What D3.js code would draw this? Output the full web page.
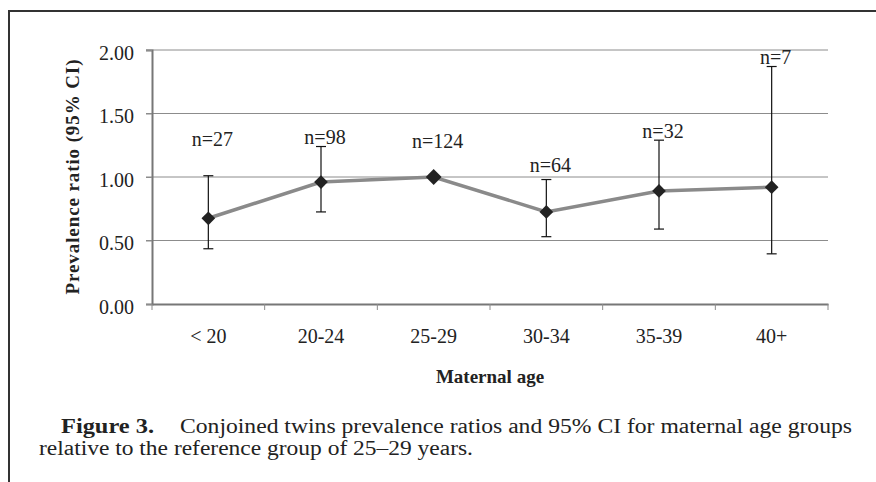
<!DOCTYPE html>
<html>
<head>
<meta charset="utf-8">
<script src="https://cdn.jsdelivr.net/npm/d3@7"></script>
<style>
  body { margin: 0; background: #fff; }
  svg text { font-family: "Liberation Serif", "Times New Roman", serif; fill: #222; }
</style>
</head>
<body>
<div id="chart"></div>
<script>
var ageGroups = ['< 20', '20-24', '25-29', '30-34', '35-39', '40+'];
var ratios    = [0.675, 0.96, 1.00, 0.725, 0.89, 0.92];
var ciLow     = [0.435, 0.725, 1.00, 0.53, 0.59, 0.395];
var ciHigh    = [1.01, 1.24, 1.00, 0.98, 1.29, 1.87];
var counts    = [27, 98, 124, 64, 32, 7];
var countLabelAt = [1.246, 1.26, 1.232, 1.04, 1.31, 1.89];
var yTicks    = [0, 0.5, 1, 1.5, 2];

var w = 876, h = 482;
var svg = d3.select('#chart').append('svg')
    .attr('width', w).attr('height', h);

svg.append('rect').attr('width', w).attr('height', h).attr('fill', '#fff');

// frame of the figure (top and left edges show)
svg.append('path')
    .attr('d', 'M9,482V11H876')
    .attr('fill', 'none')
    .attr('stroke', '#333')
    .attr('stroke-width', 2);

var x = d3.scaleBand().domain(ageGroups).range([152, 828]);
var y = d3.scaleLinear().domain([0, 2]).range([304, 50]);
var cx = function(i) { return x(ageGroups[i]) + x.bandwidth() / 2; };

// gridlines + y ticks
svg.append('g').selectAll('line').data(yTicks.filter(function(d) { return d > 0; }))
    .enter().append('line')
    .attr('x1', 146).attr('x2', 828)
    .attr('y1', function(d) { return y(d); }).attr('y2', function(d) { return y(d); })
    .attr('stroke', '#8c8c8c').attr('stroke-width', 1);

var yAxis = svg.append('g').attr('transform', 'translate(152,0)')
    .call(d3.axisLeft(y).tickValues(yTicks).tickFormat(d3.format('.2f')).tickSize(6));
yAxis.select('.domain').attr('stroke', '#777').attr('stroke-width', 2);
yAxis.selectAll('.tick line').attr('stroke', '#8c8c8c');
yAxis.selectAll('.tick text')
    .attr('x', -18).attr('dy', '0.45em')
    .style('font-size', '20px').attr('fill', '#222');

var xAxis = svg.append('g').attr('transform', 'translate(0,304)')
    .call(d3.axisBottom(x).tickSize(0).tickSizeOuter(0));
xAxis.select('.domain').attr('stroke', '#777').attr('stroke-width', 2);
xAxis.selectAll('.tick text')
    .attr('y', 39).attr('dy', 0)
    .style('font-size', '20px').attr('fill', '#222');

// ticks between categories
var bounds = ageGroups.map(function(d) { return x(d); }).concat([x.range()[1]]);
svg.append('g').selectAll('line').data(bounds).enter().append('line')
    .attr('x1', function(d) { return d; }).attr('x2', function(d) { return d; })
    .attr('y1', 304).attr('y2', 310)
    .attr('stroke', '#8c8c8c').attr('stroke-width', 1);

// connecting line
var line = d3.line()
    .x(function(d, i) { return cx(i); })
    .y(function(d) { return y(d); });
svg.append('path').datum(ratios)
    .attr('d', line)
    .attr('fill', 'none')
    .attr('stroke', '#8a8a8a')
    .attr('stroke-width', 3.5);

// error bars
var eb = svg.append('g').attr('stroke', '#111').attr('stroke-width', 1.2);
ratios.forEach(function(v, i) {
    if (ciHigh[i] - ciLow[i] <= 0) return;
    var xc = cx(i);
    eb.append('line').attr('x1', xc).attr('x2', xc)
        .attr('y1', y(ciLow[i])).attr('y2', y(ciHigh[i]));
    eb.append('line').attr('x1', xc - 5).attr('x2', xc + 5)
        .attr('y1', y(ciLow[i])).attr('y2', y(ciLow[i]));
    eb.append('line').attr('x1', xc - 5).attr('x2', xc + 5)
        .attr('y1', y(ciHigh[i])).attr('y2', y(ciHigh[i]));
});

// diamond markers (the reference point without a CI is drawn a bit larger)
svg.append('g').selectAll('path').data(ratios).enter().append('path')
    .attr('d', function(d, i) {
        var s = ciHigh[i] - ciLow[i] > 0 ? 120 : 160;
        return d3.symbol().type(d3.symbolDiamond2).size(s)();
    })
    .attr('transform', function(d, i) { return 'translate(' + cx(i) + ',' + y(d) + ')'; })
    .attr('fill', '#222');

// n labels
svg.append('g').selectAll('text').data(counts).enter().append('text')
    .attr('x', function(d, i) { return cx(i) + 4; })
    .attr('y', function(d, i) { return y(countLabelAt[i]); })
    .attr('text-anchor', 'middle')
    .style('font-size', '20px')
    .text(function(d) { return 'n=' + d; });

// axis titles
svg.append('text')
    .attr('x', 490).attr('y', 383)
    .attr('text-anchor', 'middle')
    .attr('font-weight', 'bold')
    .style('font-size', '19px')
    .text('Maternal age');

svg.append('text')
    .attr('transform', 'translate(79,177) rotate(-90)')
    .attr('text-anchor', 'middle')
    .attr('font-weight', 'bold')
    .style('font-size', '19px')
    .attr('textLength', 235)
    .attr('lengthAdjust', 'spacing')
    .text('Prevalence ratio (95% CI)');

// caption
svg.append('text')
    .attr('x', 61).attr('y', 433)
    .attr('font-weight', 'bold')
    .style('font-size', '20px')
    .attr('textLength', 93).attr('lengthAdjust', 'spacingAndGlyphs')
    .text('Figure 3.');
svg.append('text')
    .attr('x', 180).attr('y', 433)
    .style('font-size', '20px')
    .attr('textLength', 672).attr('lengthAdjust', 'spacingAndGlyphs')
    .text('Conjoined twins prevalence ratios and 95% CI for maternal age groups');
svg.append('text')
    .attr('x', 39).attr('y', 455)
    .style('font-size', '20px')
    .attr('textLength', 434).attr('lengthAdjust', 'spacingAndGlyphs')
    .text('relative to the reference group of 25\u201329 years.');
</script>
</body>
</html>
